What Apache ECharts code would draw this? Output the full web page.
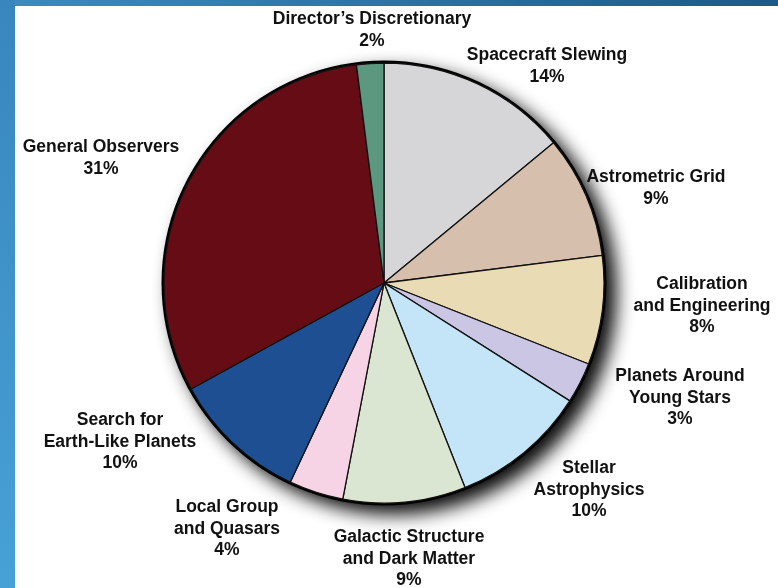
<!DOCTYPE html>
<html>
<head>
<meta charset="utf-8">
<script src="https://cdn.jsdelivr.net/npm/echarts@6/dist/echarts.min.js"></script>
<style>
  html, body { margin: 0; padding: 0; }
  #wrap { position: relative; width: 778px; height: 588px; overflow: hidden; background: #ffffff; }
  #topband { position: absolute; left: 0; top: 0; width: 778px; height: 6px; background: linear-gradient(to right, #3a8cc3, #2a74a8 50%, #1a5a8a); }
  #leftband { position: absolute; left: 0; top: 0; width: 15px; height: 588px; background: linear-gradient(to bottom, #3886bd, #47a1d6); }
  #chart { position: absolute; left: 0; top: 0; width: 778px; height: 588px; }
</style>
</head>
<body>
<div id="wrap">
  <div id="topband"></div>
  <div id="leftband"></div>
  <div id="chart"></div>
</div>
<script>
// Data
var categories = [
  'Spacecraft Slewing',
  'Astrometric Grid',
  'Calibration\nand Engineering',
  'Planets Around\nYoung Stars',
  'Stellar\nAstrophysics',
  'Galactic Structure\nand Dark Matter',
  'Local Group\nand Quasars',
  'Search for\nEarth-Like Planets',
  'General Observers',
  'Director\u2019s Discretionary'
];
var percentValues = [14, 9, 8, 3, 10, 9, 4, 10, 31, 2];

// Styles (kept separate from data)
var sliceColors = ['#d6d6d8', '#d7bfae', '#e9dbb4', '#cbc6e3', '#c3e5f7', '#dae6d2', '#f6d4e5', '#1f4f93', '#650c15', '#5c987f'];
var labelCenters = [
  [547, 66], [656, 188], [702, 306], [680, 398], [589, 490],
  [409, 559], [227, 529], [120, 442], [101, 158], [372, 30]
];

var chart = echarts.init(document.getElementById('chart'), null, { renderer: 'canvas' });

var pieData = categories.map(function (name, i) {
  return { name: name, value: percentValues[i], itemStyle: { color: sliceColors[i] } };
});

chart.setOption({
  backgroundColor: 'transparent',
  animation: false,
  series: [
    {
      type: 'pie',
      silent: true,
      z: 1,
      center: [384, 283],
      radius: [0, 222.5],
      label: { show: false },
      labelLine: { show: false },
      data: [{ value: 1, name: '', itemStyle: { color: '#000', shadowBlur: 18, shadowOffsetX: 10, shadowOffsetY: 9, shadowColor: 'rgba(0,0,0,0.95)' } }]
    },
    {
      type: 'pie',
      z: 2,
      center: [384, 283],
      radius: [0, 220],
      startAngle: 90,
      clockwise: true,
      avoidLabelOverlap: false,
      minAngle: 0,
      itemStyle: { borderColor: '#111', borderWidth: 1.3 },
      emphasis: { disabled: true },
      label: {
        show: true,
        position: 'outside',
        formatter: function (p) { return p.name + '\n' + p.value + '%'; },
        fontFamily: '"Liberation Sans", Arial, Helvetica, sans-serif',
        fontWeight: 'bold',
        fontSize: 17.5,
        lineHeight: 21.5,
        color: '#111',
        align: 'center'
      },
      labelLine: { show: false },
      labelLayout: function (params) {
        var c = labelCenters[params.dataIndex];
        return { x: c[0], y: c[1], align: 'center', verticalAlign: 'middle' };
      },
      data: pieData
    }
  ]
});
</script>
</body>
</html>
